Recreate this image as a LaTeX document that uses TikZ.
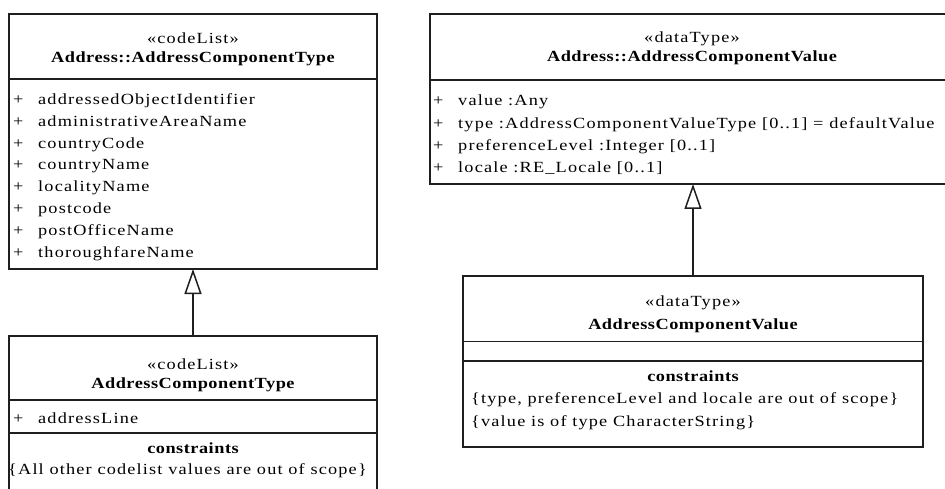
\documentclass[tikz,border=0pt]{standalone}
\usepackage{fontspec}
\setmainfont{Liberation Serif}[FakeStretch=1.18,LetterSpace=7.5]
\newfontfamily\titlefont{Liberation Serif}[FakeStretch=1.18,LetterSpace=3.3]
\usetikzlibrary{arrows.meta}

\begin{document}
\begin{tikzpicture}[x=1pt,y=-1pt,
  ink/.style={draw=black!88, line width=1.5pt},
  umlbox/.style={ink, rectangle, inner sep=0pt, outer sep=0pt, anchor=north west},
  txt/.style={inner sep=0pt, font=\fontsize{15.5}{18}\selectfont},
  attr/.style={txt, anchor=base west},
  ctr/.style={txt, anchor=base},
  ttl/.style={inner sep=0pt, anchor=base, font=\fontsize{15.5}{18}\selectfont\titlefont\bfseries},
  gen/.style={ink, -{Triangle[open, length=25pt, width=17pt, line width=1.5pt]}}
]
\useasboundingbox (0,0) rectangle (945,489);
\clip (0,0) rectangle (945,489);

% ---- class boxes ----
\node[umlbox, minimum width=368pt, minimum height=255pt] (A) at (9,14) {};
\node[umlbox, minimum width=368pt, minimum height=170pt] (B) at (9,336) {};
\node[umlbox, minimum width=525pt, minimum height=170pt] (C) at (430,14) {};
\node[umlbox, minimum width=460pt, minimum height=171pt] (D) at (463,276) {};

% compartment separators
\draw[ink] ([yshift=-65pt]A.north west) -- ([yshift=-65pt]A.north east);
\draw[ink] ([yshift=-64pt]B.north west) -- ([yshift=-64pt]B.north east);
\draw[ink] ([yshift=-97pt]B.north west) -- ([yshift=-97pt]B.north east);
\draw[ink] ([yshift=-66pt]C.north west) -- ([yshift=-66pt]C.north east);
\draw[ink] ([yshift=-65.5pt]D.north west) -- ([yshift=-65.5pt]D.north east);
\draw[ink] ([yshift=-85pt]D.north west) -- ([yshift=-85pt]D.north east);

% ---- generalisations ----
\draw[gen] (B.north) -- (A.south);
\draw[gen] (D.north) -- (D.north |- C.south);

% ---- Address::AddressComponentType ----
\node[ctr] (As) at (193,44) {«codeList»};
\node[ttl] (At) at (193,62.5) {Address::AddressComponentType};
\foreach \t [count=\i] in {addressedObjectIdentifier,administrativeAreaName,countryCode,countryName,localityName,postcode,postOfficeName,thoroughfareName}{
  \node[attr] (Ap\i) at (13,{104.3+21.86*(\i-1)}) {+};
  \node[attr] (Aa\i) at (38,{104.3+21.86*(\i-1)}) {\t};
}

% ---- AddressComponentType ----
\node[ctr] (Bs) at (193,369) {«codeList»};
\node[ttl] (Bt) at (193,388) {AddressComponentType};
\node[attr] (Bp1) at (13,423) {+};
\node[attr] (Ba1) at (38,423) {addressLine};
\node[ttl] (Bc) at (193,453) {constraints};
\node[attr] (Bk1) at (8,474) {\{All other codelist values are out of scope\}};

% ---- Address::AddressComponentValue ----
\node[ctr] (Cs) at (692,42.5) {«dataType»};
\node[ttl] (Ct) at (692,61.5) {Address::AddressComponentValue};
\node[attr] (Cp1) at (433,106) {+};
\node[attr] (Ca1) at (458,106) {value :Any};
\node[attr] (Cp2) at (433,128.2) {+};
\node[attr] (Ca2) at (458,128.2) {type :AddressComponentValueType [0..1] = defaultValue};
\node[attr] (Cp3) at (433,150.4) {+};
\node[attr] (Ca3) at (458,150.4) {preferenceLevel :Integer [0..1]};
\node[attr] (Cp4) at (433,172.6) {+};
\node[attr] (Ca4) at (458,172.6) {locale :RE\_Locale [0..1]};

% ---- AddressComponentValue ----
\node[ctr] (Ds) at (693,306) {«dataType»};
\node[ttl] (Dt) at (693,329) {AddressComponentValue};
\node[ttl] (Dc) at (693,381) {constraints};
\node[attr] (Dk1) at (471,403.5) {\{type, preferenceLevel and locale are out of scope\}};
\node[attr] (Dk2) at (471,426) {\{value is of type CharacterString\}};
\end{tikzpicture}
\end{document}
